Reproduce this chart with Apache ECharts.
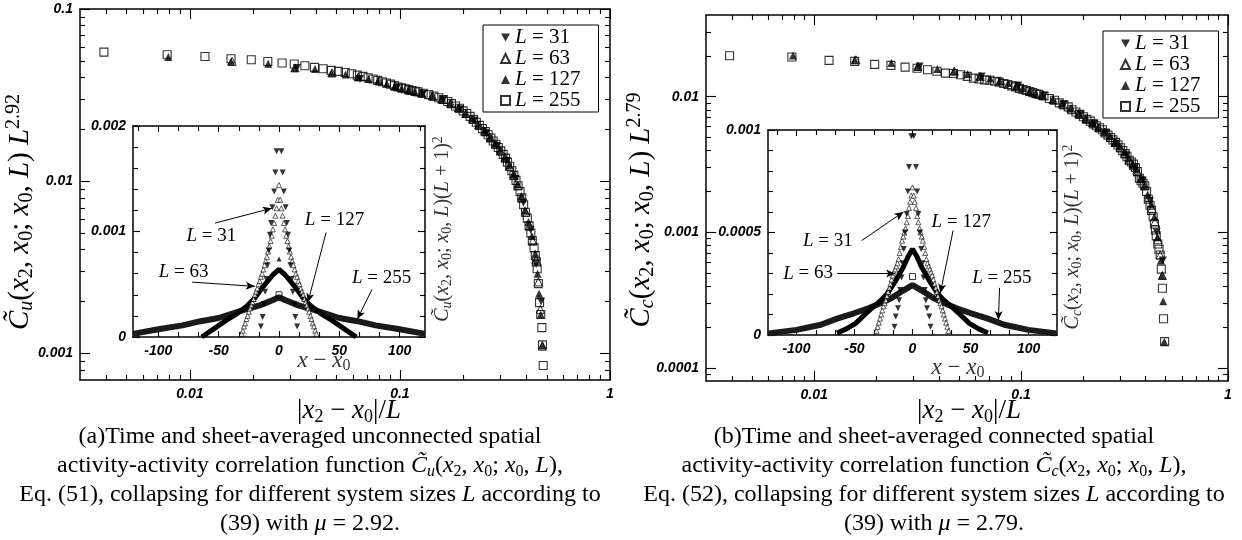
<!DOCTYPE html>
<html>
<head>
<meta charset="utf-8">
<script src="https://cdn.jsdelivr.net/npm/echarts@6/dist/echarts.min.js"></script>
<style>
html, body { margin: 0; padding: 0; background: #fff; }
#main { width: 1242px; height: 540px; }
</style>
</head>
<body>
<div id="main"></div>
<script>
// ---- main plot (a): unconnected, |x2-x0|/L vs C_u L^2.92 ----
var a255x = [0.0039,0.0078,0.0118,0.0157,0.0196,0.0235,0.0275,0.0314,0.0353,0.0392,0.0431,0.0471,0.051,0.0549,0.0588,0.0627,0.0667,0.0706,0.0745,0.0784,0.0824,0.0863,0.0902,0.0941,0.098,0.102,0.106,0.11,0.114,0.118,0.122,0.129,0.137,0.145,0.153,0.161,0.169,0.176,0.184,0.192,0.2,0.208,0.216,0.224,0.231,0.239,0.247,0.255,0.263,0.271,0.278,0.286,0.294,0.302,0.31,0.318,0.325,0.333,0.341,0.349,0.357,0.365,0.373,0.38,0.388,0.396,0.404,0.412,0.42,0.427,0.435,0.441,0.446,0.45,0.456,0.462,0.468,0.474,0.477,0.481];
var a255y = [0.0562,0.0542,0.053,0.0514,0.0507,0.0496,0.0486,0.0479,0.0468,0.0458,0.045,0.044,0.0434,0.0428,0.0421,0.0413,0.0406,0.0399,0.0392,0.0385,0.0378,0.0372,0.0366,0.0359,0.0352,0.0348,0.0344,0.034,0.0336,0.0333,0.033,0.0324,0.0318,0.0312,0.0305,0.0298,0.029,0.0282,0.0273,0.0265,0.0256,0.0247,0.0238,0.0229,0.022,0.0211,0.0202,0.0194,0.0186,0.0178,0.0171,0.0164,0.0157,0.015,0.0143,0.0136,0.0129,0.0122,0.0115,0.0108,0.0101,0.0094,0.0087,0.008,0.0073,0.0066,0.0061,0.0055,0.005,0.0045,0.0041,0.0037,0.0034,0.0031,0.00254,0.00197,0.00168,0.00141,0.00112,0.00085];
var a127x = [0.0079,0.0157,0.0236,0.0315,0.0394,0.0472,0.0551,0.063,0.0709,0.0787,0.0866,0.0945,0.102,0.11,0.118,0.126,0.142,0.157,0.173,0.189,0.205,0.22,0.236,0.252,0.268,0.283,0.299,0.315,0.331,0.346,0.362,0.378,0.394,0.409,0.425,0.441,0.452,0.46,0.468,0.477];
var a127y = [0.0526,0.0496,0.0481,0.0455,0.0448,0.0425,0.0417,0.0403,0.0392,0.0382,0.0368,0.0355,0.0345,0.0337,0.033,0.0324,0.0313,0.0299,0.0284,0.0266,0.0248,0.0231,0.0213,0.0196,0.018,0.0165,0.0152,0.0138,0.0124,0.011,0.0096,0.0082,0.0068,0.0058,0.0048,0.0038,0.0029,0.00222,0.00168,0.00112];
var a63x = [0.0159,0.0317,0.0476,0.0635,0.0794,0.0952,0.111,0.127,0.143,0.159,0.175,0.19,0.206,0.222,0.238,0.254,0.27,0.286,0.302,0.317,0.333,0.349,0.365,0.381,0.397,0.413,0.429,0.444,0.456,0.466,0.476];
var a63y = [0.0496,0.0455,0.0425,0.0403,0.0382,0.0357,0.0339,0.0325,0.0312,0.0299,0.0283,0.0266,0.0247,0.0229,0.0212,0.0195,0.0179,0.0164,0.015,0.0137,0.0122,0.0108,0.0094,0.008,0.0066,0.0055,0.0045,0.0035,0.0026,0.0018,0.0011];
var a31x = [0.0323,0.0645,0.0968,0.129,0.161,0.194,0.226,0.258,0.29,0.323,0.355,0.387,0.419,0.445,0.47];
var a31y = [0.0455,0.0392,0.0348,0.0322,0.0297,0.0262,0.0225,0.019,0.016,0.0131,0.0103,0.0075,0.0052,0.0033,0.002];

// ---- inset (a): x - x0 vs C_u (L+1)^2 ----
var ia255x = [-121,-100,-80,-65,-50,-38,-27,-16,-5,0,5,16,27,38,50,65,80,100,121];
var ia255y = [0.00003,0.000073,0.00011,0.00015,0.00018,0.000225,0.000265,0.0003,0.00035,0.000376,0.00035,0.0003,0.000265,0.000225,0.00018,0.00015,0.00011,0.000073,0.00003];
var ia127x = [-64,-55,-43.5,-35,-27,-20,-13,-5,0,5,13,20,27,35,43.5,55,64];
var ia127y = [0,0.00007,0.00016,0.00022,0.00029,0.00037,0.00048,0.00059,0.00064,0.00059,0.00048,0.00037,0.00029,0.00022,0.00016,0.00007,0];
var ia63x = [-31,-30,-29,-28,-27,-26,-25,-24,-23,-22,-21,-20,-19,-18,-17,-16,-15,-14,-13,-12,-11,-10,-9,-8,-7,-6,-5,-4,-3,-2,-1,0,1,2,3,4,5,6,7,8,9,10,11,12,13,14,15,16,17,18,19,20,21,22,23,24,25,26,27,28,29,30,31];
var ia63y = [0.00003,0.00006,0.0001,0.00013,0.00017,0.0002,0.00024,0.00027,0.0003,0.00033,0.00036,0.0004,0.00043,0.00046,0.0005,0.00053,0.00057,0.0006,0.00064,0.00068,0.00072,0.00076,0.00081,0.00086,0.00091,0.00096,0.00102,0.00108,0.00115,0.00122,0.0013,0.00144,0.0013,0.00122,0.00115,0.00108,0.00102,0.00096,0.00091,0.00086,0.00081,0.00076,0.00072,0.00068,0.00064,0.0006,0.00057,0.00053,0.0005,0.00046,0.00043,0.0004,0.00036,0.00033,0.0003,0.00027,0.00024,0.0002,0.00017,0.00013,0.0001,0.00006,0.00003];
var ia31x = [-15,-13.5,-12.5,-11.5,-10.5,-9.5,-8.5,-7.5,-6.5,-5.5,-4,-3,-2,2,3,4,5.5,6.5,7.5,8.5,9.5,10.5,11.5,12.5,13.5,15];
var ia31y = [0.0001,0.00019,0.00031,0.00043,0.00055,0.00068,0.00082,0.00097,0.00108,0.00123,0.00138,0.00156,0.00176,0.00176,0.00156,0.00138,0.00123,0.00108,0.00097,0.00082,0.00068,0.00055,0.00043,0.00031,0.00019,0.0001];
var iaPeak255 = [0, 0.0004];
var iaPeak127 = [0, 0.00074];
var iaArrows = [[[-53,0.00108],[-6,0.00122]], [[-72,0.00052],[-20,0.00048]], [[39,0.00099],[24,0.00033]], [[77,0.00045],[65,0.00017]]];
var iaLabels = [['31',-56,0.00096], ['63',-79,0.00062], ['127',46,0.00111], ['255',85,0.00056]];

// ---- main plot (b): connected, |x2-x0|/L vs C_c L^2.79 ----
var b255x = [0.0039,0.0078,0.0118,0.0157,0.0196,0.0235,0.0275,0.0314,0.0353,0.0392,0.0431,0.0471,0.051,0.0549,0.0588,0.0627,0.0667,0.0706,0.0745,0.0784,0.0824,0.0863,0.0902,0.0941,0.098,0.102,0.106,0.11,0.114,0.118,0.122,0.129,0.137,0.145,0.153,0.161,0.169,0.176,0.184,0.192,0.2,0.208,0.216,0.224,0.231,0.239,0.247,0.255,0.263,0.271,0.278,0.286,0.294,0.302,0.31,0.318,0.325,0.333,0.341,0.349,0.357,0.365,0.373,0.38,0.388,0.396,0.404,0.412,0.42,0.427,0.435,0.441,0.446,0.45,0.458,0.464,0.47,0.476,0.482,0.488,0.494];
var b255y = [0.020,0.0196,0.0185,0.0182,0.0173,0.0170,0.0165,0.0162,0.0158,0.0154,0.0149,0.0148,0.0145,0.0141,0.0137,0.0135,0.0133,0.0132,0.0130,0.0128,0.0125,0.0123,0.0120,0.0118,0.0115,0.0113,0.0111,0.0109,0.0107,0.0105,0.0104,0.0101,0.0097,0.0094,0.0090,0.0087,0.0084,0.0080,0.0077,0.0074,0.0071,0.0068,0.0066,0.0063,0.0061,0.0059,0.0057,0.0054,0.0052,0.0050,0.0048,0.0046,0.0044,0.0042,0.0040,0.0038,0.0036,0.0034,0.0033,0.00318,0.0030,0.0028,0.0025,0.0024,0.0023,0.0022,0.0020,0.00175,0.00158,0.00145,0.0013,0.00115,0.00104,0.00094,0.00082,0.00075,0.00068,0.000535,0.000386,0.00023,0.000156];
var b127x = [0.0079,0.0157,0.0236,0.0315,0.0394,0.0472,0.0551,0.063,0.0709,0.0787,0.0866,0.0945,0.102,0.11,0.118,0.126,0.142,0.157,0.173,0.189,0.205,0.22,0.236,0.252,0.268,0.283,0.299,0.315,0.331,0.346,0.362,0.378,0.394,0.409,0.425,0.441,0.456,0.474,0.48,0.486,0.492];
var b127y = [0.0201,0.0187,0.0177,0.0167,0.016,0.0154,0.0147,0.0141,0.0136,0.0131,0.0126,0.012,0.0116,0.0109,0.0105,0.0102,0.0095,0.0089,0.0082,0.0075,0.0069,0.0064,0.0059,0.0055,0.0051,0.0046,0.0043,0.0039,0.0035,0.0032,0.0029,0.0025,0.0022,0.0019,0.0016,0.0013,0.00092,0.00062,0.00048,0.00031,0.000156];
var b63x = [0.0159,0.0317,0.0476,0.0635,0.0794,0.0952,0.111,0.127,0.143,0.159,0.175,0.19,0.206,0.222,0.238,0.254,0.27,0.286,0.302,0.317,0.333,0.349,0.365,0.381,0.397,0.413,0.429,0.444,0.458,0.47,0.482];
var b63y = [0.0187,0.0167,0.0154,0.0141,0.0131,0.012,0.011,0.0102,0.0095,0.0088,0.0081,0.0075,0.0069,0.0064,0.0059,0.0055,0.005,0.0046,0.0042,0.0038,0.0034,0.0031,0.0028,0.0025,0.0022,0.0018,0.0015,0.0012,0.00088,0.00068,0.00048];
var b31x = [0.0323,0.0645,0.0968,0.129,0.161,0.194,0.226,0.258,0.29,0.323,0.355,0.387,0.419,0.452,0.484];
var b31y = [0.0167,0.0141,0.0121,0.0102,0.0088,0.0074,0.0063,0.0054,0.0045,0.0037,0.003,0.0024,0.0017,0.001,0.00062];

// ---- inset (b): x - x0 vs C_c (L+1)^2 ----
var ib255x = [-124,-100,-79,-65,-50.5,-38,-27.6,-18,-10,-4,0,4,10,18,27.6,38,50.5,65,79,100,124];
var ib255y = [0.000008,0.000025,0.00005,0.00008,0.000106,0.00013,0.000155,0.00018,0.00021,0.00023,0.000244,0.00023,0.00021,0.00018,0.000155,0.00013,0.000106,0.00008,0.00005,0.000025,0.000008];
var ib127x = [-65,-57,-49,-41,-33.6,-27,-22,-15,-8,-4,0,4,8,15,22,27,33.6,41,49,57,65];
var ib127y = [0.00001,0.00003,0.000057,0.0001,0.000138,0.00017,0.0002,0.00026,0.00033,0.00038,0.00042,0.00038,0.00033,0.00026,0.0002,0.00017,0.000138,0.0001,0.000057,0.00003,0.00001];
var ib63x = [-31,-30,-29,-28,-27,-26,-25,-24,-23,-22,-21,-20,-19,-18,-17,-16,-15,-14,-13,-12,-11,-10,-9,-8,-7,-6,-5,-4,-3,-2,-1,0,1,2,3,4,5,6,7,8,9,10,11,12,13,14,15,16,17,18,19,20,21,22,23,24,25,26,27,28,29,30,31];
var ib63y = [0.00002,0.00004,0.00006,0.00008,0.0001,0.00012,0.00014,0.000155,0.00017,0.00019,0.00021,0.00023,0.00025,0.00027,0.00029,0.000305,0.00032,0.000335,0.00035,0.00037,0.0004,0.00043,0.00046,0.00048,0.0005,0.00052,0.00055,0.00058,0.00062,0.00065,0.00068,0.00072,0.00068,0.00065,0.00062,0.00058,0.00055,0.00052,0.0005,0.00048,0.00046,0.00043,0.0004,0.00037,0.00035,0.000335,0.00032,0.000305,0.00029,0.00027,0.00025,0.00023,0.00021,0.00019,0.00017,0.000155,0.00014,0.00012,0.0001,0.00008,0.00006,0.00004,0.00002];
var ib31x = [-15.5,-14.5,-12.5,-11.5,-10.5,-9.5,-8.5,-7.5,-6.5,-5,-4,-3,-1,1,3,4,5,6.5,7.5,8.5,9.5,10.5,11.5,12.5,14.5,15.5];
var ib31y = [0.00004,0.00009,0.00013,0.00017,0.00022,0.00028,0.00035,0.00042,0.0005,0.00059,0.0007,0.00082,0.00097,0.00097,0.00082,0.0007,0.00059,0.0005,0.00042,0.00035,0.00028,0.00022,0.00017,0.00013,0.00009,0.00004];
var ibPeak255 = [0, 0.000285];
var ibArrows = [[[-44,0.00046],[-7.8,0.0006]], [[-65,0.0003],[-15,0.0003]], [[35,0.00051],[24,0.000205]], [[75,0.00023],[74,0.000073]]];
var ibLabels = [['31',-73,0.00046], ['63',-90,0.0003], ['127',42,0.00055], ['255',77,0.00028]];

// ---- ticks ----
var logXMajor = [0.01, 0.1, 1];
var logXMinor = [0.004,0.005,0.006,0.007,0.008,0.009,0.02,0.03,0.04,0.05,0.06,0.07,0.08,0.09,0.2,0.3,0.4,0.5,0.6,0.7,0.8,0.9];
var aYMajor = [0.001, 0.01, 0.1];
var aYMinor = [0.0008,0.0009,0.002,0.003,0.004,0.005,0.006,0.007,0.008,0.009,0.02,0.03,0.04,0.05,0.06,0.07,0.08,0.09];
var bYMajor = [0.0001, 0.001, 0.01];
var bYMinor = [0.00009,0.0002,0.0003,0.0004,0.0005,0.0006,0.0007,0.0008,0.0009,0.002,0.003,0.004,0.005,0.006,0.007,0.008,0.009,0.02,0.03];
var insXMajor = [-100, -50, 0, 50, 100];
var insXMinor = [-116.67,-83.33,-66.67,-33.33,-16.67,16.67,33.33,66.67,83.33,116.67];
var iaYMajor = [0, 0.001, 0.002];
var iaYMinor = [0.0002,0.0004,0.0006,0.0008,0.0012,0.0014,0.0016,0.0018];
var ibYMajor = [0, 0.0005, 0.001];
var ibYMinor = [0.0001,0.0002,0.0003,0.0004,0.0006,0.0007,0.0008,0.0009];

var SERIF = '"Liberation Serif", "DejaVu Serif", serif';
var SANS = '"Liberation Sans", Arial, sans-serif';

function pairs(xs, ys) {
  var out = [];
  for (var i = 0; i < xs.length; i++) out.push([xs[i], ys[i]]);
  return out;
}

function fmtNum(v) {
  return String(Number((+v).toPrecision(4)));
}

// four axes per dimension: main (with line + labels), its minor ticks, opposite side, its minor ticks
function axes(dim, gi, type, min, max, majors, minors, lenMaj, lenMin) {
  var pos = dim === 'x' ? ['bottom', 'top'] : ['left', 'right'];
  var out = [];
  pos.forEach(function (p, k) {
    [true, false].forEach(function (major) {
      out.push({
        type: type, logBase: 10, gridIndex: gi, position: p, offset: 0,
        min: min, max: max, silent: true,
        axisLine: { show: major, onZero: false, lineStyle: { color: '#000', width: 1.5 } },
        axisTick: { show: true, inside: true, length: major ? lenMaj : lenMin,
          customValues: major ? majors : minors, lineStyle: { color: '#000', width: 1.1 } },
        axisLabel: { show: major && k === 0, customValues: majors, formatter: fmtNum,
          color: '#000', fontFamily: SANS, fontSize: 14, fontWeight: 'bold', fontStyle: 'italic',
          margin: 7, hideOverlap: false },
        splitLine: { show: false },
        minorTick: { show: false },
        axisPointer: { show: false }
      });
    });
  });
  return out;
}

function mathRich(size, color) {
  var sub = Math.round(size * 0.68);
  return {
    n: { fontFamily: SERIF, fontSize: size, color: color, fill: color, lineHeight: size * 1.15 },
    i: { fontFamily: SERIF, fontSize: size, fontStyle: 'italic', color: color, fill: color, lineHeight: size * 1.15 },
    s: { fontFamily: SERIF, fontSize: sub, fontStyle: 'italic', color: color, fill: color, lineHeight: sub, verticalAlign: 'bottom' },
    d: { fontFamily: SERIF, fontSize: sub, color: color, fill: color, lineHeight: sub, verticalAlign: 'bottom' },
    p: { fontFamily: SERIF, fontSize: sub, color: color, fill: color, lineHeight: sub, verticalAlign: 'top' }
  };
}

function gtext(x, y, text, size, color, rot) {
  return {
    type: 'text', x: x, y: y, rotation: rot || 0, z: 100, silent: true,
    style: { text: text, rich: mathRich(size, color), fill: color,
      fontFamily: SERIF, fontSize: size,
      align: 'center', verticalAlign: 'middle', textAlign: 'center', textVerticalAlign: 'middle' }
  };
}

var symTri = 'triangle';
function mainSeries(xi, pts31, pts63, pts127, pts255) {
  return [
    { name: 'L = 31', type: 'scatter', xAxisIndex: xi, yAxisIndex: xi, data: pts31,
      symbol: symTri, symbolRotate: 180, symbolSize: 8, itemStyle: { color: '#000' } },
    { name: 'L = 63', type: 'scatter', xAxisIndex: xi, yAxisIndex: xi, data: pts63,
      symbol: symTri, symbolSize: 8, itemStyle: { color: 'rgba(0,0,0,0)', borderColor: '#000', borderWidth: 1 } },
    { name: 'L = 127', type: 'scatter', xAxisIndex: xi, yAxisIndex: xi, data: pts127,
      symbol: symTri, symbolSize: 8, itemStyle: { color: '#000' } },
    { name: 'L = 255', type: 'scatter', xAxisIndex: xi, yAxisIndex: xi, data: pts255,
      symbol: 'rect', symbolSize: 8, itemStyle: { color: 'rgba(0,0,0,0)', borderColor: '#000', borderWidth: 1.1 } }
  ];
}

function insetSeries(xi, b255, b127, p63, p31, peak255, peak127, arrows, labels) {
  var s = [
    { name: 'i255', type: 'line', xAxisIndex: xi, yAxisIndex: xi, data: b255, showSymbol: false,
      lineStyle: { color: '#1a1a1a', width: 6 }, z: 3,
      markLine: { silent: true, symbol: ['none', 'arrow'], symbolSize: [6, 9], animation: false,
        label: { show: false }, lineStyle: { color: '#000', width: 1, type: 'solid' },
        emphasis: { disabled: true },
        data: arrows.map(function (a) { return [{ coord: a[0] }, { coord: a[1] }]; }) },
      markPoint: { silent: true, symbol: 'rect', symbolSize: 1, animation: false,
        itemStyle: { color: 'rgba(0,0,0,0)' },
        label: { show: true, position: 'inside', color: '#000', fontFamily: SERIF, fontSize: 19,
          formatter: function (p) { return '{i|L}{n| = ' + p.name + '}'; },
          rich: { i: { fontFamily: SERIF, fontSize: 19, fontStyle: 'italic', color: '#000' },
                  n: { fontFamily: SERIF, fontSize: 19, color: '#000' } } },
        data: labels.map(function (l) { return { name: l[0], coord: [l[1], l[2]] }; }) } },
    { name: 'i127', type: 'line', xAxisIndex: xi, yAxisIndex: xi, data: b127, showSymbol: false,
      lineStyle: { color: '#000', width: 5 }, z: 3 },
    { name: 'i255p', type: 'scatter', xAxisIndex: xi, yAxisIndex: xi, data: [peak255],
      symbol: 'rect', symbolSize: 6, itemStyle: { color: 'rgba(0,0,0,0)', borderColor: '#000', borderWidth: 1 }, z: 4 },
    { name: 'i63', type: 'scatter', xAxisIndex: xi, yAxisIndex: xi, data: p63,
      symbol: symTri, symbolSize: 5, itemStyle: { color: '#fff', borderColor: '#000', borderWidth: 0.8 }, z: 4 },
    { name: 'i31', type: 'scatter', xAxisIndex: xi, yAxisIndex: xi, data: p31,
      symbol: symTri, symbolRotate: 180, symbolSize: 6, itemStyle: { color: '#000' }, z: 5 }
  ];
  if (peak127) {
    s.push({ name: 'i127p', type: 'scatter', xAxisIndex: xi, yAxisIndex: xi, data: [peak127],
      symbol: symTri, symbolSize: 5, itemStyle: { color: '#000' }, z: 5 });
  }
  return s;
}

function legendAt(left, top) {
  return {
    data: [
      { name: 'L = 31', icon: 'path://M0,0L10,0L5,9Z' },
      { name: 'L = 63' }, { name: 'L = 127' }, { name: 'L = 255' }
    ],
    orient: 'vertical', left: left, top: top,
    padding: [2, 18, 1, 17], itemGap: 0, itemWidth: 9, itemHeight: 9,
    borderColor: '#000', borderWidth: 1, backgroundColor: '#fff', borderRadius: 0,
    selectedMode: false,
    formatter: function (n) { return '{i|L}{n|' + n.slice(1) + '}'; },
    textStyle: { color: '#000', fontFamily: SERIF, fontSize: 21, lineHeight: 20.5,
      rich: { i: { fontFamily: SERIF, fontSize: 21, fontStyle: 'italic', color: '#000', lineHeight: 20.5 },
              n: { fontFamily: SERIF, fontSize: 21, color: '#000', lineHeight: 20.5 } } }
  };
}

var yNameA = '{i|C\u0303}{s|u}{n|(}{i|x}{d|2}{n|, }{i|x}{d|0}{n|; }{i|x}{d|0}{n|, }{i|L}{n|) }{i|L}{p|2.92}';
var yNameB = '{i|C\u0303}{s|c}{n|(}{i|x}{d|2}{n|, }{i|x}{d|0}{n|; }{i|x}{d|0}{n|, }{i|L}{n|) }{i|L}{p|2.79}';
var xName = '{n||}{i|x}{d|2}{n| \u2212 }{i|x}{d|0}{n||/}{i|L}';
var insYA = '{i|C\u0303}{s|u}{n|(}{i|x}{d|2}{n|, }{i|x}{d|0}{n|; }{i|x}{d|0}{n|, }{i|L}{n|)(}{i|L}{n| + 1)}{p|2}';
var insYB = '{i|C\u0303}{s|c}{n|(}{i|x}{d|2}{n|, }{i|x}{d|0}{n|; }{i|x}{d|0}{n|, }{i|L}{n|)(}{i|L}{n| + 1)}{p|2}';
var insX = '{i|x}{n| \u2212 }{i|x}{d|0}';

var capA = [
  '{n|(a)Time and sheet-averaged unconnected spatial}',
  '{n|activity-activity correlation function }{i|C\u0303}{s|u}{n|(}{i|x}{d|2}{n|, }{i|x}{d|0}{n|; }{i|x}{d|0}{n|, }{i|L}{n|),}',
  '{n|Eq. (51), collapsing for different system sizes }{i|L}{n| according to}',
  '{n|(39) with }{i|\u03bc}{n| = 2.92.}'
];
var capB = [
  '{n|(b)Time and sheet-averaged connected spatial}',
  '{n|activity-activity correlation function }{i|C\u0303}{s|c}{n|(}{i|x}{d|2}{n|, }{i|x}{d|0}{n|; }{i|x}{d|0}{n|, }{i|L}{n|),}',
  '{n|Eq. (52), collapsing for different system sizes }{i|L}{n| according to}',
  '{n|(39) with }{i|\u03bc}{n| = 2.79.}'
];
var capY = [437, 466, 495, 524];

var graphics = [
  gtext(20, 212, yNameA, 29, '#000', Math.PI / 2),
  gtext(641, 210, yNameB, 29, '#000', Math.PI / 2),
  gtext(349, 411, xName, 27, '#000'),
  gtext(969, 411, xName, 27, '#000'),
  gtext(443, 229, insYA, 20, '#333', Math.PI / 2),
  gtext(1073, 237, insYB, 20, '#333', Math.PI / 2),
  gtext(324, 361, insX, 23, '#333'),
  gtext(958, 368, insX, 23, '#333')
];
capA.forEach(function (t, k) { graphics.push(gtext(310, capY[k], t, 24, '#000')); });
capB.forEach(function (t, k) { graphics.push(gtext(934, capY[k], t, 24, '#000')); });

var chart = echarts.init(document.getElementById('main'), null, { renderer: 'canvas' });
var option = {
  animation: false,
  backgroundColor: '#fff',
  grid: [
    { left: 80, top: 9, width: 530, height: 371, show: false, containLabel: false, outerBoundsMode: 'none' },
    { left: 133, top: 126, width: 292, height: 211, show: true, backgroundColor: '#fff', borderWidth: 0, containLabel: false, outerBoundsMode: 'none' },
    { left: 706, top: 15, width: 522, height: 366, show: false, containLabel: false, outerBoundsMode: 'none' },
    { left: 768, top: 130, width: 289, height: 205, show: true, backgroundColor: '#fff', borderWidth: 0, containLabel: false, outerBoundsMode: 'none' }
  ],
  xAxis: [].concat(
    axes('x', 0, 'log', 0.003, 1, logXMajor, logXMinor, 10, 5),
    axes('x', 1, 'value', -121, 121, insXMajor, insXMinor, 6, 5),
    axes('x', 2, 'log', 0.003, 1, logXMajor, logXMinor, 10, 5),
    axes('x', 3, 'value', -124.5, 124.5, insXMajor, insXMinor, 6, 5)
  ),
  yAxis: [].concat(
    axes('y', 0, 'log', 0.0007, 0.1, aYMajor, aYMinor, 10, 5),
    axes('y', 1, 'value', 0, 0.002, iaYMajor, iaYMinor, 7, 5),
    axes('y', 2, 'log', 0.00008, 0.04, bYMajor, bYMinor, 10, 5),
    axes('y', 3, 'value', 0, 0.001, ibYMajor, ibYMinor, 7, 5)
  ),
  legend: [legendAt(483, 25), legendAt(1103, 31)],
  series: [].concat(
    mainSeries(0, pairs(a31x, a31y), pairs(a63x, a63y), pairs(a127x, a127y), pairs(a255x, a255y)),
    insetSeries(4, pairs(ia255x, ia255y), pairs(ia127x, ia127y), pairs(ia63x, ia63y), pairs(ia31x, ia31y), iaPeak255, iaPeak127, iaArrows, iaLabels),
    mainSeries(8, pairs(b31x, b31y), pairs(b63x, b63y), pairs(b127x, b127y), pairs(b255x, b255y)),
    insetSeries(12, pairs(ib255x, ib255y), pairs(ib127x, ib127y), pairs(ib63x, ib63y), pairs(ib31x, ib31y), ibPeak255, null, ibArrows, ibLabels)
  ),
  graphic: graphics
};
chart.setOption(option);
</script>
</body>
</html>
